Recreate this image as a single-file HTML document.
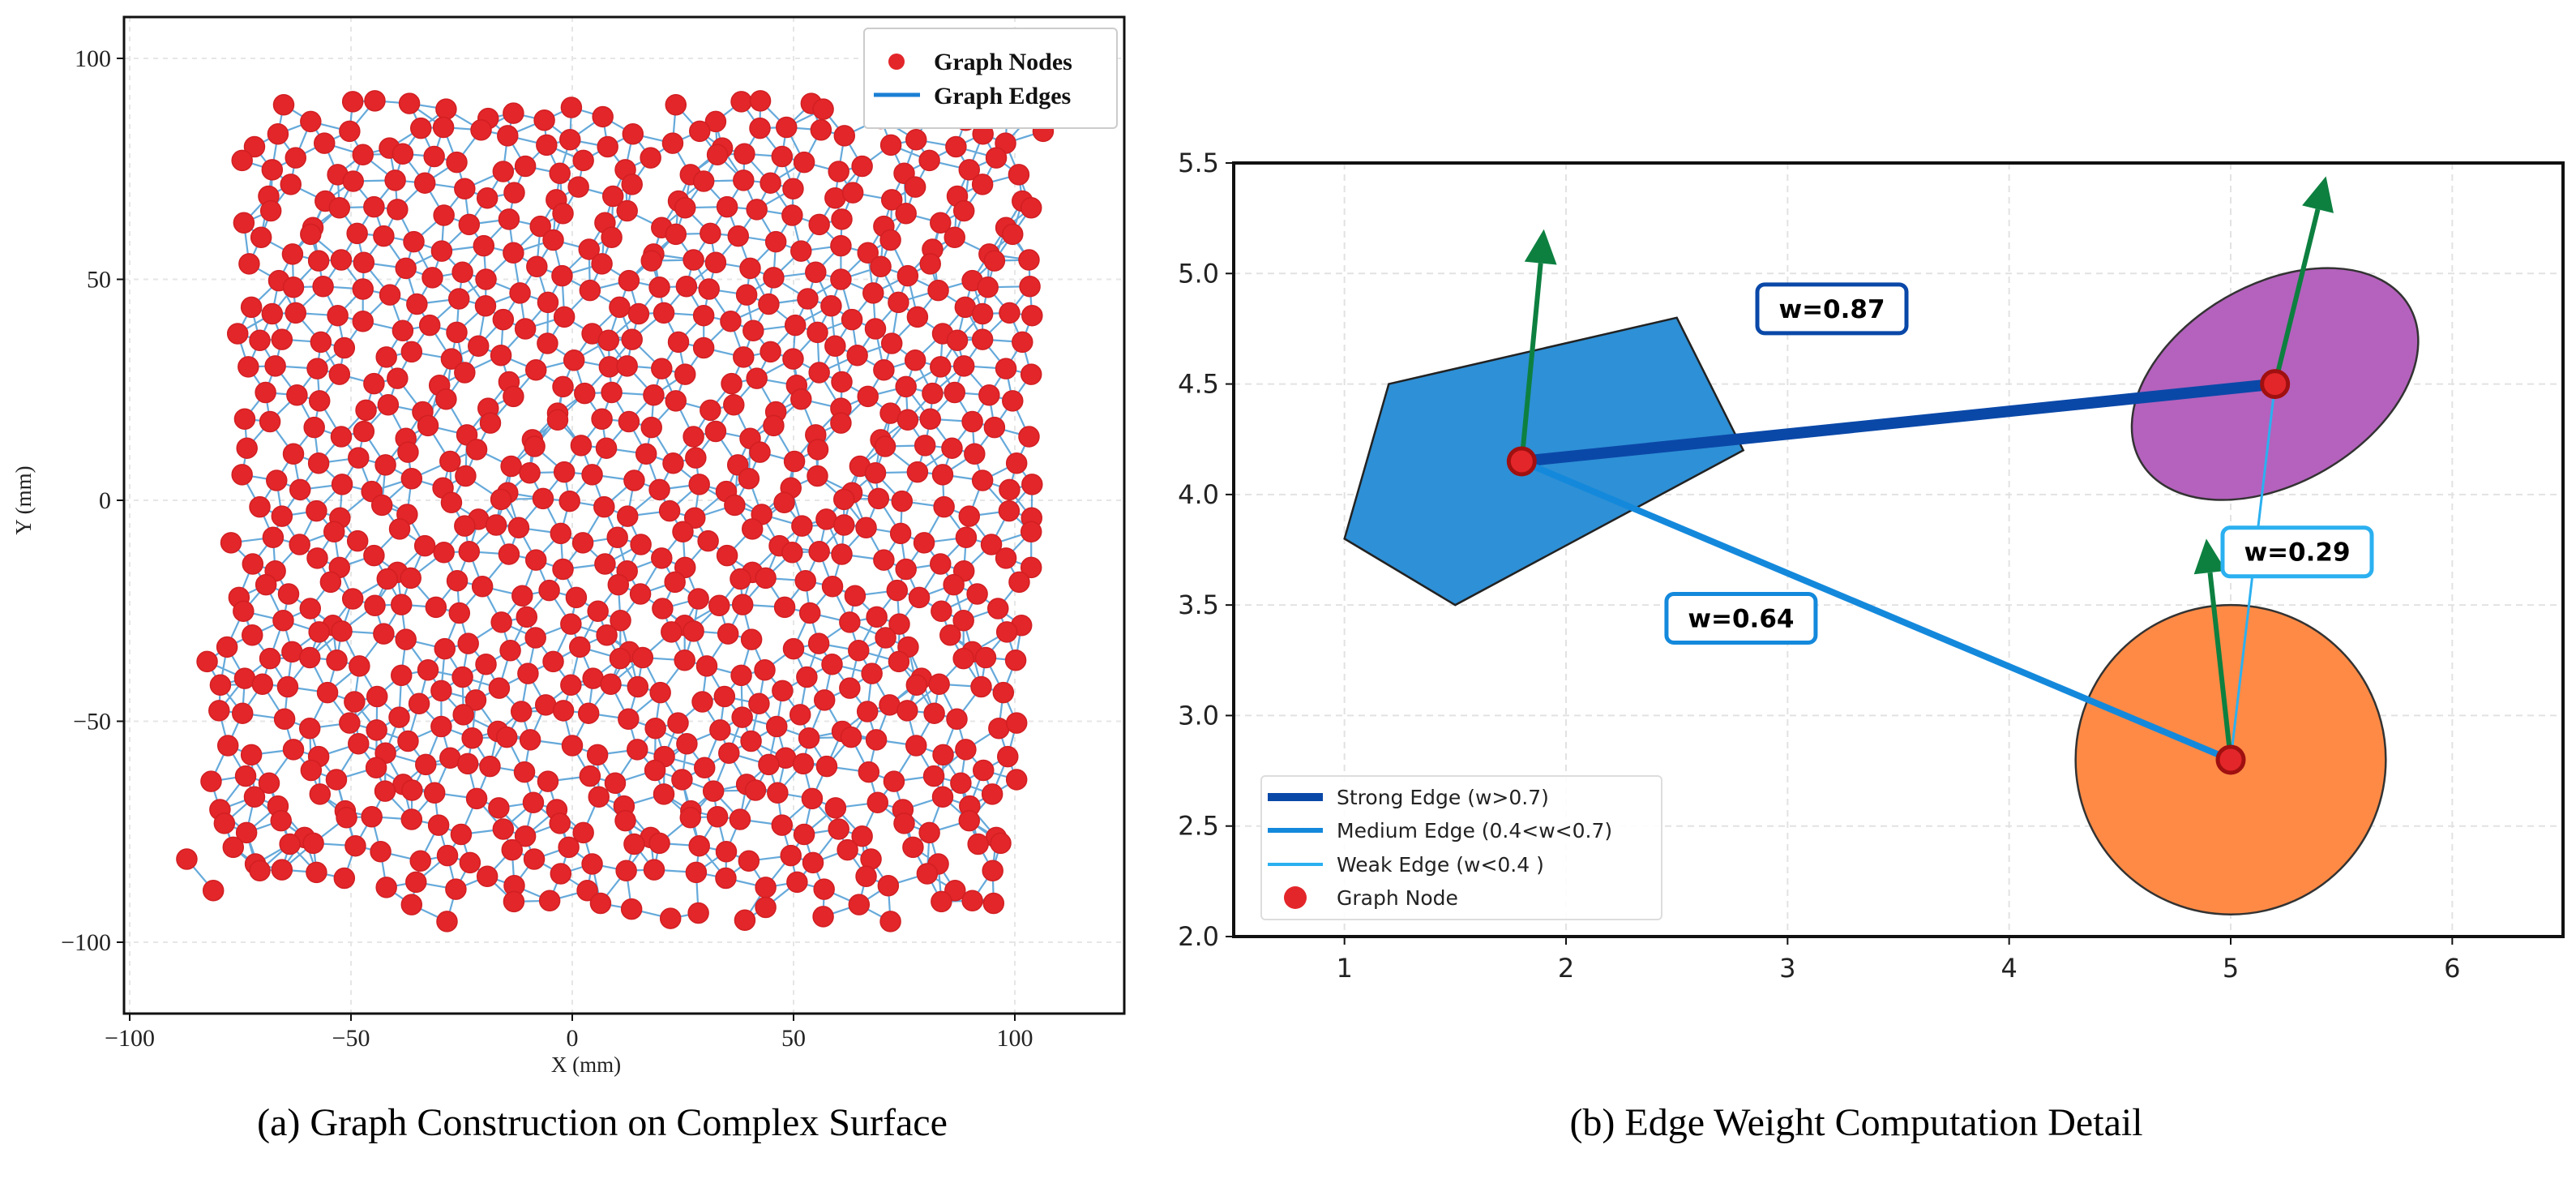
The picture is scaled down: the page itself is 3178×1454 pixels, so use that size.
<!DOCTYPE html>
<html><head><meta charset="utf-8">
<style>
html,body{margin:0;padding:0;background:#fff;}
svg{display:block;}
</style></head>
<body>
<svg id="fig" width="3178" height="1454" viewBox="0 0 3178 1454" xmlns="http://www.w3.org/2000/svg">
<g id="left"></g>
<g id="right"></g>
<text x="743" y="1400" font-family="Liberation Serif, serif" font-size="48" text-anchor="middle">(a) Graph Construction on Complex Surface</text>
<text x="2290" y="1400" font-family="Liberation Serif, serif" font-size="48" text-anchor="middle">(b) Edge Weight Computation Detail</text>
</svg>
<script>
// ---------- Left panel data ----------
const rowY = [88,82,76,70,64,58,52,46,40,34,28,22,16,10,4,-2,-8,-14,-20,-26,-32,-38,-44,-50,-56,-62,-68,-74,-80,-86,-93];
const rowX = [
[-66,-58,-51,-44,-37,-27,-20,-13,-8,-1,8,22,33,38,44,53,57,68,80,90,97,104],
[-72,-65,-57,-50,-43,-35,-28,-22,-14,-6,1,7,14,21,28,35,41,49,56,63,71,78,85,92,99,105],
[-74,-68,-61,-54,-47,-40,-32,-25,-17,-10,-3,4,11,18,25,32,40,46,53,60,67,74,81,88,95,102],
[-70,-63,-56,-48,-41,-33,-26,-20,-12,-5,2,9,15,23,30,37,44,51,58,64,72,79,86,93,100],
[-75,-67,-60,-52,-45,-38,-30,-23,-16,-8,-1,6,13,20,27,34,42,48,55,62,69,76,83,90,97,104],
[-72,-64,-58,-50,-42,-36,-28,-21,-13,-6,3,10,17,24,31,39,45,52,59,66,73,80,87,94,101],
[-74,-66,-59,-53,-46,-39,-31,-25,-18,-9,-2,5,12,19,26,33,40,47,54,61,68,75,82,89,96,103],
[-71,-64,-56,-49,-42,-34,-27,-19,-12,-4,3,11,18,25,32,38,45,53,60,67,74,81,88,95,102],
[-75,-68,-61,-54,-47,-40,-33,-25,-17,-10,-2,6,14,21,28,35,42,49,56,63,70,77,84,91,98,105],
[-72,-65,-57,-50,-43,-36,-29,-22,-15,-7,1,8,15,23,30,37,44,51,58,65,72,79,86,93,100],
[-74,-66,-59,-52,-45,-38,-31,-24,-16,-9,-1,7,13,20,27,35,42,49,55,62,69,76,83,90,97,104],
[-71,-63,-56,-48,-41,-34,-27,-20,-13,-5,2,10,17,24,31,38,45,52,59,66,73,80,87,94,101],
[-75,-68,-60,-53,-46,-39,-32,-24,-17,-10,-3,5,12,19,26,33,40,47,54,61,68,75,82,89,96,103],
[-72,-64,-57,-50,-43,-36,-29,-21,-14,-7,1,8,15,22,29,36,43,50,57,64,71,78,85,92,99],
[-74,-67,-60,-53,-45,-38,-30,-23,-16,-9,-2,6,13,20,27,34,41,48,56,63,70,77,84,91,98,105],
[-72,-65,-58,-51,-44,-37,-29,-22,-15,-8,0,7,14,21,28,35,42,49,56,62,69,76,83,90,97,103],
[-76,-69,-61,-54,-47,-40,-33,-26,-18,-11,-4,3,10,17,24,31,39,46,53,60,67,74,81,88,95,102],
[-73,-66,-59,-52,-45,-38,-30,-23,-16,-9,-1,6,13,20,27,34,41,48,55,62,69,76,83,90,97,104],
[-77,-70,-63,-56,-49,-42,-35,-27,-20,-13,-6,2,9,16,23,30,37,44,51,58,65,72,79,86,93,100],
[-74,-67,-60,-53,-46,-38,-31,-24,-17,-10,-2,5,12,19,26,33,40,47,54,61,68,75,82,89,96,103],
[-79,-72,-65,-58,-51,-44,-37,-29,-22,-15,-8,0,7,14,21,28,35,42,49,56,63,70,77,84,91,98],
[-81,-75,-68,-61,-54,-47,-40,-32,-25,-18,-11,-4,3,10,17,24,31,38,45,52,59,66,73,80,87,94,100],
[-78,-71,-64,-57,-50,-43,-36,-29,-22,-15,-7,0,7,14,21,28,35,42,49,56,63,70,77,84,91,98],
[-80,-73,-66,-59,-52,-45,-38,-31,-24,-17,-10,-3,4,11,18,25,32,39,46,53,60,67,74,81,88,95,101],
[-78,-71,-64,-57,-50,-43,-36,-29,-22,-15,-8,-1,6,13,20,27,34,41,48,55,62,69,76,83,90,97],
[-81,-74,-67,-60,-53,-46,-39,-32,-25,-18,-11,-4,3,10,17,24,31,38,45,52,59,66,73,80,87,94,99],
[-79,-72,-65,-58,-51,-44,-37,-30,-23,-16,-9,-2,5,12,19,26,33,40,47,54,61,68,75,82,89,96],
[-80,-73,-66,-59,-52,-45,-38,-31,-24,-17,-10,-3,4,11,18,25,32,39,46,53,60,67,74,81,88,95],
[-86,-78,-71,-64,-57,-50,-43,-36,-29,-22,-15,-8,-1,6,13,20,27,34,41,48,55,62,69,76,83,90,96],
[-80,-72,-65,-58,-50,-43,-35,-28,-20,-12,-4,4,12,20,27,35,42,50,58,65,72,80,88,94],
[-36,-30,-14,-4,5,14,22,30,38,44,55,64,73,82,91,95]
];
const jitterY = [1.5,-2,0.5,2.2,-1.2,-0.4,1.8,-2.3,0.9,-1.6,2.4];
const jitterX = [0.8,-1.1,1.4,-0.6,0.2,-1.5,1.0,-0.3,1.7];
const xTicksA = [-100,-50,0,50,100];
const yTicksA = [100,50,0,-50,-100];

// ---------- Right panel data ----------
const pentagon = [[1.2,4.5],[2.5,4.8],[2.8,4.2],[1.5,3.5],[1.0,3.8]];
const ellipseShape = {cx:5.2, cy:4.5, w:1.4, h:0.9, angle:30};
const circleShape = {cx:5.0, cy:2.8, r:0.7};
const nodeX = [1.8, 5.2, 5.0];
const nodeY = [4.15, 4.5, 2.8];
const arrowTipX = [1.9, 5.43, 4.89];
const arrowTipY = [5.2, 5.44, 3.8];
const edgeFrom = [0, 0, 1];
const edgeTo = [1, 2, 2];
const edgeW = [0.87, 0.64, 0.29];
const labelX = [3.2, 2.79, 5.3];
const labelY = [4.84, 3.44, 3.74];
const xTicksB = [1,2,3,4,5,6];
const yTicksB = [2.0,2.5,3.0,3.5,4.0,4.5,5.0,5.5];

const NS = "http://www.w3.org/2000/svg";
function mk(tag, attrs, parent){const e=document.createElementNS(NS,tag);for(const k in attrs)e.setAttribute(k,attrs[k]);parent.appendChild(e);return e;}

// ---------- Left panel ----------
(function(){
const g = document.getElementById('left');
const L=153,R=1387,T=21,B=1250;
const sx = v => 706 + v*5.46;
const sy = v => 617 - v*5.45;
xTicksA.forEach(v=>{
  const l=mk('line',{x1:sx(v),x2:sx(v),y1:T,y2:B,stroke:'#e6e6e6','stroke-width':2,'stroke-dasharray':'6,6'},g);
  
  
});
yTicksA.forEach(v=>{
  const l=mk('line',{x1:L,x2:R,y1:sy(v),y2:sy(v),stroke:'#e6e6e6','stroke-width':2,'stroke-dasharray':'6,6'},g);
  
  
});
const nodes=[];
let k=0;
rowX.forEach((row,i)=>{row.forEach((x,j)=>{nodes.push([x+jitterX[(k)%jitterX.length], rowY[i]+jitterY[(k*7+i)%jitterY.length]]);k++;});});
const eg = mk('g',{stroke:'#4a9ad4','stroke-width':2.2,'stroke-opacity':0.85},g);


let d='';
for(let a=0;a<nodes.length;a++)for(let b=a+1;b<nodes.length;b++){
  const dx=nodes[a][0]-nodes[b][0], dy=nodes[a][1]-nodes[b][1];
  if(dx*dx+dy*dy<9.6*9.6) d+=`M${sx(nodes[a][0]).toFixed(1)},${sy(nodes[a][1]).toFixed(1)}L${sx(nodes[b][0]).toFixed(1)},${sy(nodes[b][1]).toFixed(1)}`;
}
const ep=mk('path',{d:d,fill:'none'},eg);


const ng = mk('g',{fill:'#e3262a',stroke:'#d11f22','stroke-width':1.5},g);


nodes.forEach(n=>{
  const c=mk('circle',{cx:sx(n[0]),cy:sy(n[1]),r:12.5},ng);
  
  
});
const fr=mk('rect',{x:L,y:T,width:R-L,height:B-T,fill:'none',stroke:'#111','stroke-width':3},g);


xTicksA.forEach(v=>{
  const t=mk('line',{x1:sx(v),x2:sx(v),y1:B,y2:B+9,stroke:'#111','stroke-width':2},g);
  
  
  const tx=mk('text',{x:sx(v),y:B+40,'font-family':'Liberation Serif, serif','font-size':30,'text-anchor':'middle',fill:'#222'},g);
  tx.textContent=(v<0?'\u2212':'')+Math.abs(v);
  
  
});
yTicksA.forEach(v=>{
  const t=mk('line',{x1:L-9,x2:L,y1:sy(v),y2:sy(v),stroke:'#111','stroke-width':2},g);
  
  
  const tx=mk('text',{x:L-16,y:sy(v)+10,'font-family':'Liberation Serif, serif','font-size':30,'text-anchor':'end',fill:'#222'},g);
  tx.textContent=(v<0?'\u2212':'')+Math.abs(v);
  
  
});
const xl=mk('text',{x:723,y:1322,'font-family':'Liberation Serif, serif','font-size':27,'text-anchor':'middle',fill:'#222'},g);
xl.textContent='X (mm)';


const yl=mk('text',{x:0,y:0,'font-family':'Liberation Serif, serif','font-size':27,'text-anchor':'middle',fill:'#222',transform:'translate(38,617) rotate(-90)'},g);
yl.textContent='Y (mm)';


const lg=mk('g',{},g);


mk('rect',{x:1066,y:35,width:312,height:123,rx:5,fill:'#fff',stroke:'#ccc','stroke-width':2},lg);
mk('circle',{cx:1106,cy:76,r:10,fill:'#e3262a'},lg);
mk('line',{x1:1078,x2:1135,y1:117,y2:117,stroke:'#1a7fd4','stroke-width':5},lg);
const t1=mk('text',{x:1152,y:86,'font-family':'Liberation Serif, serif','font-size':30,'font-weight':'bold',fill:'#111'},lg);
t1.textContent='Graph Nodes';


const t2=mk('text',{x:1152,y:128,'font-family':'Liberation Serif, serif','font-size':30,'font-weight':'bold',fill:'#111'},lg);
t2.textContent='Graph Edges';


})();

// ---------- Right panel ----------
(function(){
const g=document.getElementById('right');
const L=1522,R=3162,T=201,B=1155;
const sx=v=>L+(v-0.5)*(R-L)/6;
const sy=v=>B-(v-2.0)*(B-T)/3.5;
const ux=(R-L)/6, uy=(B-T)/3.5;
xTicksB.forEach(v=>{
  const l=mk('line',{x1:sx(v),x2:sx(v),y1:T,y2:B,stroke:'#e2e2e2','stroke-width':2,'stroke-dasharray':'8,6'},g);
  
  
});
yTicksB.forEach(v=>{
  const l=mk('line',{x1:L,x2:R,y1:sy(v),y2:sy(v),stroke:'#e2e2e2','stroke-width':2,'stroke-dasharray':'8,6'},g);
  
  
});
const pg=mk('polygon',{points:pentagon.map(p=>sx(p[0])+','+sy(p[1])).join(' '),fill:'#2e90d6',stroke:'#222','stroke-width':2.5},g);


const el=mk('ellipse',{cx:sx(ellipseShape.cx),cy:sy(ellipseShape.cy),rx:ellipseShape.w/2*ux,ry:ellipseShape.h/2*uy,fill:'#b462bd',stroke:'#333','stroke-width':2.5,transform:`rotate(${-ellipseShape.angle} ${sx(ellipseShape.cx)} ${sy(ellipseShape.cy)})`},g);


const ci=mk('ellipse',{cx:sx(circleShape.cx),cy:sy(circleShape.cy),rx:circleShape.r*ux,ry:circleShape.r*uy,fill:'#ff8a45',stroke:'#333','stroke-width':2.5},g);


function edgeStyle(w){return w>0.7?['#0a48a8',14]:(w>0.4?['#1489dc',8]:['#2bb0f0',3]);}
edgeW.forEach((w,i)=>{
  const [c,wd]=edgeStyle(w);
  const a=edgeFrom[i], b=edgeTo[i];
  const l=mk('line',{x1:sx(nodeX[a]),y1:sy(nodeY[a]),x2:sx(nodeX[b]),y2:sy(nodeY[b]),stroke:c,'stroke-width':wd},g);
  
  
});
nodeX.forEach((x,i)=>{
  const x1=sx(x),y1=sy(nodeY[i]),x2=sx(arrowTipX[i]),y2=sy(arrowTipY[i]);
  const dx=x2-x1,dy=y2-y1,len=Math.hypot(dx,dy),ux2=dx/len,uy2=dy/len;
  const hl=42,hw=20;
  const bx=x2-ux2*hl,by=y2-uy2*hl;
  const ag=mk('g',{},g);
  
  
  mk('line',{x1:x1,y1:y1,x2:bx,y2:by,stroke:'#0d8040','stroke-width':6},ag);
  mk('polygon',{points:`${x2},${y2} ${bx-uy2*hw},${by+ux2*hw} ${bx+uy2*hw},${by-ux2*hw}`,fill:'#0d8040'},ag);
});
nodeX.forEach((x,i)=>{
  const c=mk('circle',{cx:sx(x),cy:sy(nodeY[i]),r:16,fill:'#e3262a',stroke:'#a01010','stroke-width':5},g);
  
  
});
edgeW.forEach((w,i)=>{
  const [c]=edgeStyle(w);
  const lg=mk('g',{},g);
  
  
  mk('rect',{x:sx(labelX[i])-92,y:sy(labelY[i])-30,width:184,height:60,rx:9,fill:'#fff',stroke:c,'stroke-width':5},lg);
  const t=mk('text',{x:sx(labelX[i]),y:sy(labelY[i])+11,'font-family':'DejaVu Sans, sans-serif','font-size':31,'font-weight':'bold','text-anchor':'middle',fill:'#000'},lg);
  t.textContent='w='+w.toFixed(2);
});
const fr=mk('rect',{x:L,y:T,width:R-L,height:B-T,fill:'none',stroke:'#111','stroke-width':4},g);


xTicksB.forEach(v=>{
  const t=mk('line',{x1:sx(v),x2:sx(v),y1:B,y2:B+10,stroke:'#111','stroke-width':2},g);
  
  
  const tx=mk('text',{x:sx(v),y:B+50,'font-family':'DejaVu Sans, sans-serif','font-size':32,'text-anchor':'middle',fill:'#222'},g);
  tx.textContent=String(v);
  
  
});
yTicksB.forEach(v=>{
  const t=mk('line',{x1:L-10,x2:L,y1:sy(v),y2:sy(v),stroke:'#111','stroke-width':2},g);
  
  
  const tx=mk('text',{x:L-18,y:sy(v)+11,'font-family':'DejaVu Sans, sans-serif','font-size':32,'text-anchor':'end',fill:'#222'},g);
  tx.textContent=v.toFixed(1);
  
  
});
const lg=mk('g',{},g);


mk('rect',{x:1556,y:957,width:494,height:177,rx:5,fill:'#fff','fill-opacity':0.9,stroke:'#ddd','stroke-width':2},lg);
const entries=[['Strong Edge (w>0.7)','#0a48a8',10,983],['Medium Edge (0.4<w<0.7)','#1489dc',6,1024],['Weak Edge (w<0.4 )','#2bb0f0',4,1066]];
entries.forEach(e=>{
  mk('line',{x1:1564,x2:1632,y1:e[3],y2:e[3],stroke:e[1],'stroke-width':e[2]},lg);
  const t=mk('text',{x:1649,y:e[3]+9,'font-family':'DejaVu Sans, sans-serif','font-size':25,fill:'#222'},lg);
  t.textContent=e[0];
  
  
});
mk('circle',{cx:1598,cy:1107,r:14,fill:'#e3262a'},lg);
const tn=mk('text',{x:1649,y:1116,'font-family':'DejaVu Sans, sans-serif','font-size':25,fill:'#222'},lg);
tn.textContent='Graph Node';


})();
</script>
</body></html>
